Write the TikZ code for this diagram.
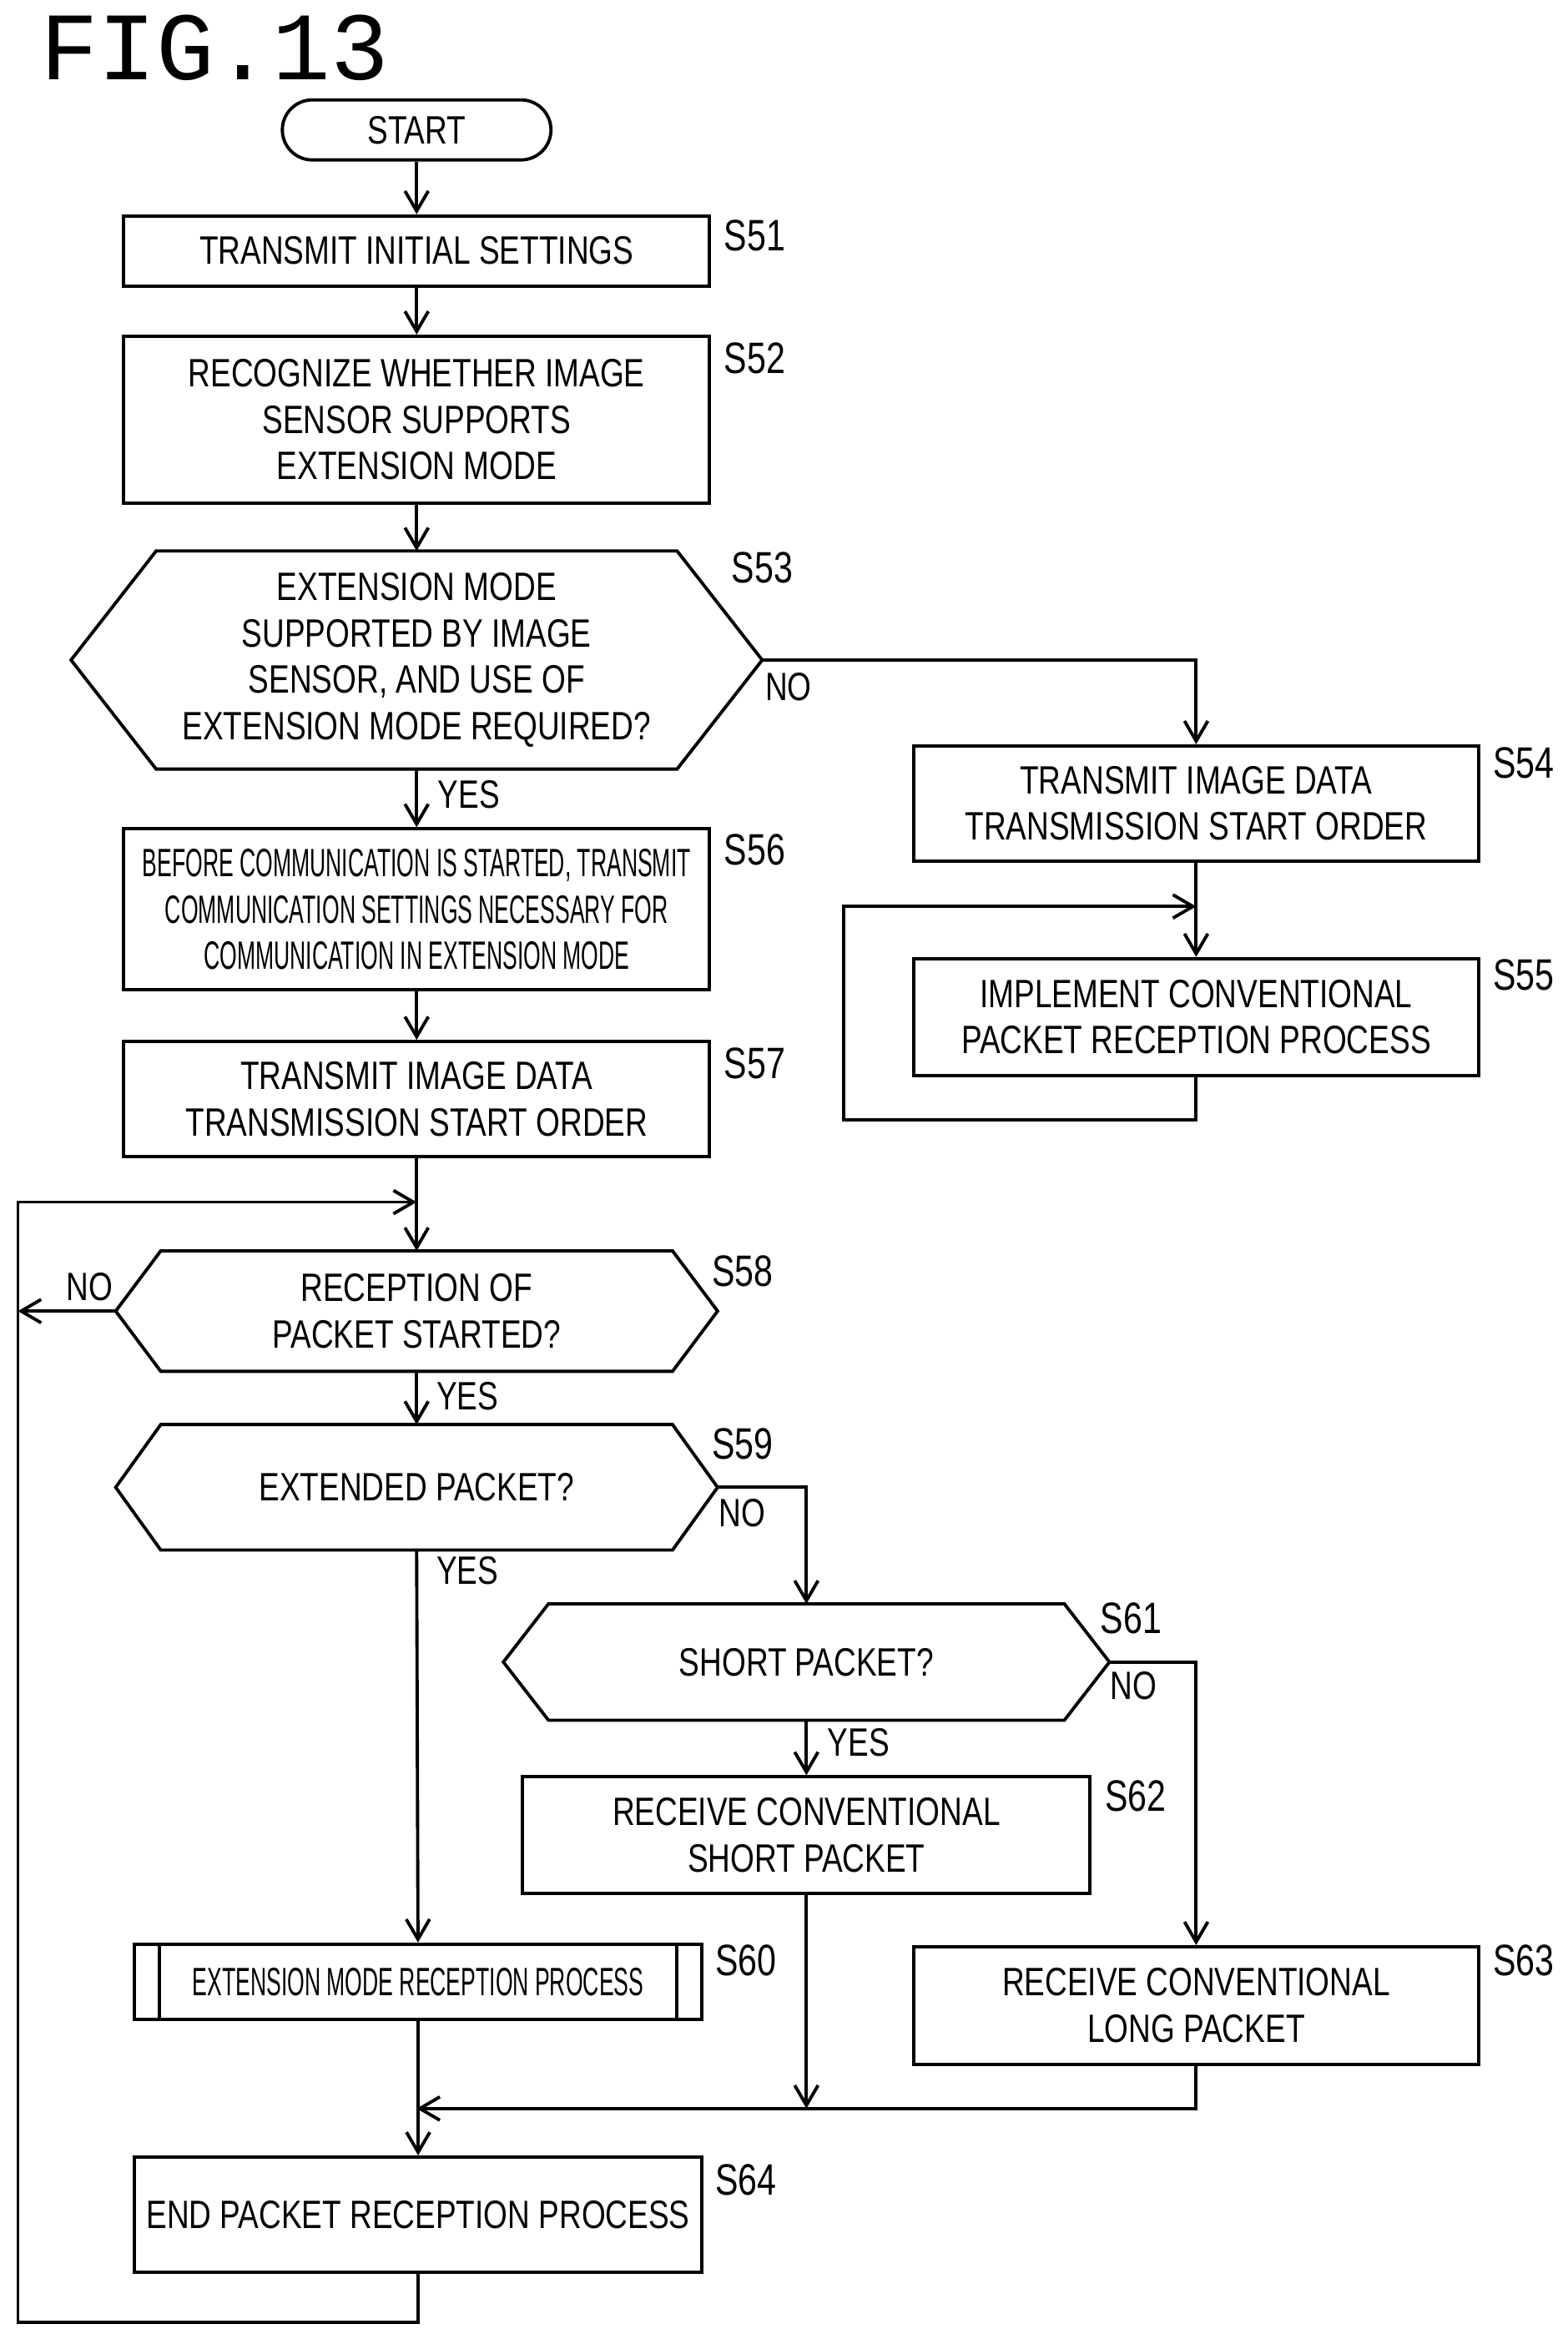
\documentclass[tikz,border=0pt]{standalone}
\usepackage{fontspec}
\setmainfont{Liberation Sans}[FakeStretch=0.78]
\newfontfamily\narrowfont{Liberation Sans}[FakeStretch=0.56]
\newfontfamily\figfont{Liberation Mono}
\usetikzlibrary{arrows.meta}

\tikzset{
  every node/.style={font=\fontsize{13.5}{15.8}\selectfont},
  box/.style={draw, line width=1.1pt, align=center, minimum width=7.02cm, minimum height=1.38cm, inner sep=1pt},
  hexa/.style={align=center, minimum width=#1, inner sep=1pt},
  steplbl/.style={anchor=west, font=\fontsize{15}{15}\selectfont},
  flow/.style={line width=1.1pt, -{Straight Barb[length=2.4mm,width=2.8mm]}},
  line/.style={line width=1.1pt}
}
% hexagon outline round a named node
\newcommand{\hexout}[2]{%
  \draw[line width=1.1pt] (#1.west) -- ([xshift=#2]#1.north west) -- ([xshift=-#2]#1.north east)
    -- (#1.east) -- ([xshift=-#2]#1.south east) -- ([xshift=#2]#1.south west) -- cycle;}

\begin{document}
\begin{tikzpicture}[x=0.0179cm,y=-0.0179cm]
  \useasboundingbox (0,0) rectangle (1050,1563);
  \node[anchor=west, font=\figfont\fontsize{33}{33}\selectfont] (fig) at (20,32) {FIG.13};

  \node[draw, line width=1.1pt, rounded corners=0.36cm, minimum width=3.22cm, minimum height=0.72cm] (start) at (279,87) {START};
  \node[box, minimum height=0.84cm] (s51) at (279,168) {TRANSMIT INITIAL SETTINGS};
  \node[box, minimum height=2.0cm] (s52) at (279,281) {RECOGNIZE WHETHER IMAGE\\SENSOR SUPPORTS\\EXTENSION MODE};
  \node[hexa=8.27cm, minimum height=2.6cm] (s53) at (279,442) {EXTENSION MODE\\SUPPORTED BY IMAGE\\SENSOR, AND USE OF\\EXTENSION MODE REQUIRED?};
  \hexout{s53}{1.02cm}
  \node[box, minimum width=6.77cm] (s54) at (801,538) {TRANSMIT IMAGE DATA\\TRANSMISSION START ORDER};
  \node[box, minimum width=6.77cm, minimum height=1.4cm] (s55) at (801,681) {IMPLEMENT CONVENTIONAL\\PACKET RECEPTION PROCESS};
  \node[box, minimum height=1.93cm, font=\narrowfont\fontsize{13.5}{15.8}\selectfont] (s56) at (279,609) {BEFORE COMMUNICATION IS STARTED, TRANSMIT\\COMMUNICATION SETTINGS NECESSARY FOR\\COMMUNICATION IN EXTENSION MODE};
  \node[box] (s57) at (279,736) {TRANSMIT IMAGE DATA\\TRANSMISSION START ORDER};
  \node[hexa=7.2cm, minimum height=1.43cm] (s58) at (279,878) {RECEPTION OF\\PACKET STARTED?};
  \hexout{s58}{0.54cm}
  \node[hexa=7.2cm, minimum height=1.49cm] (s59) at (279,996) {EXTENDED PACKET?};
  \hexout{s59}{0.54cm}
  \node[hexa=7.25cm, minimum height=1.38cm] (s61) at (540,1113) {SHORT PACKET?};
  \hexout{s61}{0.54cm}
  \node[box, minimum width=6.8cm, minimum height=1.4cm] (s62) at (540,1229) {RECEIVE CONVENTIONAL\\SHORT PACKET};
  \node[box, minimum width=6.8cm, minimum height=0.9cm, font=\narrowfont\fontsize{13.5}{15.8}\selectfont] (s60) at (280,1327) {EXTENSION MODE RECEPTION PROCESS};
  \draw[line] ([xshift=0.32cm]s60.north west) -- ([xshift=0.32cm]s60.south west);
  \draw[line] ([xshift=-0.32cm]s60.north east) -- ([xshift=-0.32cm]s60.south east);
  \node[box, minimum width=6.77cm, minimum height=1.41cm] (s63) at (801,1343) {RECEIVE CONVENTIONAL\\LONG PACKET};
  \node[box, minimum width=6.8cm] (s64) at (280,1483) {END PACKET RECEPTION PROCESS};

  % step labels
  \node[steplbl] (l51) at (478,158) {S51};
  \node[steplbl] (l52) at (478,240) {S52};
  \node[steplbl] (l53) at (483,380) {S53};
  \node[steplbl] (l54) at (993,511) {S54};
  \node[steplbl] (l55) at (993,653) {S55};
  \node[steplbl] (l56) at (478,569) {S56};
  \node[steplbl] (l57) at (478,712) {S57};
  \node[steplbl] (l58) at (470,851) {S58};
  \node[steplbl] (l59) at (470,967) {S59};
  \node[steplbl] (l61) at (730,1084) {S61};
  \node[steplbl] (l62) at (733,1203) {S62};
  \node[steplbl] (l60) at (472,1313) {S60};
  \node[steplbl] (l63) at (993,1313) {S63};
  \node[steplbl] (l64) at (472,1460) {S64};

  % branch labels
  \node (y53) at (314,532) {YES};
  \node (n53) at (528,460) {NO};
  \node (n58) at (60,862) {NO};
  \node (y58) at (313,935) {YES};
  \node (n59) at (497,1013) {NO};
  \node (y59) at (313,1052) {YES};
  \node (n61) at (759,1129) {NO};
  \node (y61) at (575,1167) {YES};

  % junction points
  \coordinate (j1) at (279,805);
  \coordinate (lt) at (12,805);
  \coordinate (lb) at (12,1555);
  \coordinate (no58) at (12,878);
  \coordinate (r1) at (565,750);
  \coordinate (r2) at (801,607);
  \coordinate (m1) at (540,1412);
  \coordinate (m2) at (279,1412);

  \draw[flow] (start) -- (s51);
  \draw[flow] (s51) -- (s52);
  \draw[flow] (s52) -- (s53);
  \draw[flow] (s53.south) -- (s56);
  \draw[flow] (s53.east) -| (s54.north);
  \draw[flow] (s54) -- (s55);
  \draw[flow] (s55.south) |- (r1) |- (r2);
  \draw[flow] (s56) -- (s57);
  \draw[flow] (s57) -- (s58.north);
  \draw[flow] (s58.west) -- (no58);
  \draw[flow] (s58.south) -- (s59.north);
  \draw[flow] (s59.east) -| (s61.north);
  \draw[flow] (s59.south) -- (s60);
  \draw[flow] (s61.east) -| (s63.north);
  \draw[flow] (s61.south) -- (s62);
  \draw[flow] (s62) -- (m1);
  \draw[flow] (s63) |- (m2);
  \draw[flow] (s60) -- (s64);
  \draw[flow] (s64.south) |- (lb) -- (lt) -- (j1);
\end{tikzpicture}
\end{document}
